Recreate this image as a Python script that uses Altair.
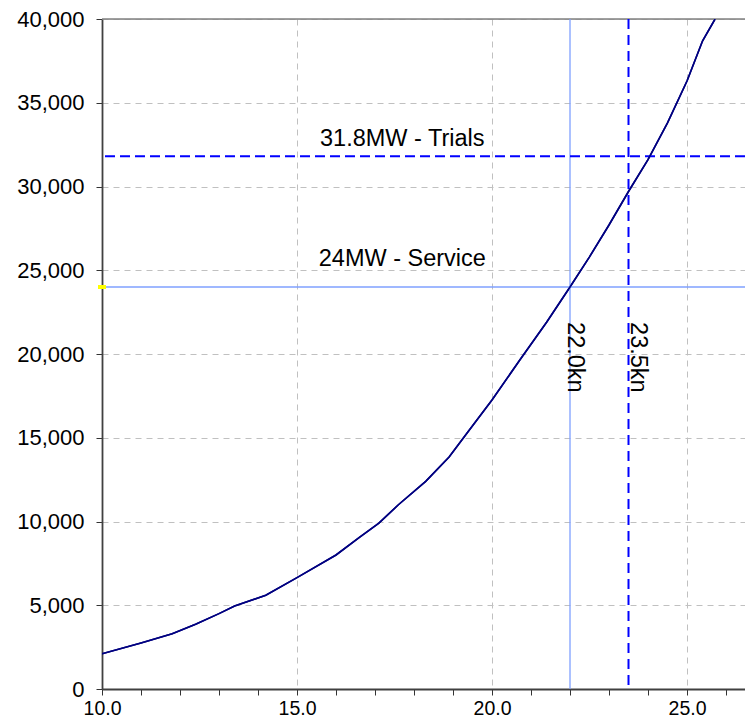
import altair as alt
import pandas as pd

# ---- data ----
speed_kn = [10.0, 11.0, 11.8, 12.4, 13.0, 13.4, 14.2, 15.0, 16.0, 16.6, 17.1, 17.6,
            18.3, 18.9, 19.4, 20.0, 20.7, 21.4, 22.0, 22.5, 23.0, 23.5, 24.0, 24.5,
            25.0, 25.4, 25.72]
power_kw = [2100, 2750, 3300, 3870, 4500, 4950, 5600, 6650, 8000, 9050, 9900, 11000,
            12400, 13850, 15400, 17250, 19600, 21900, 24000, 25800, 27700, 29700, 31600, 33800,
            36300, 38700, 40000]

x_ticks = [10 + 0.5 * i for i in range(33)]
y_ticks = [0, 5000, 10000, 15000, 20000, 25000, 30000, 35000, 40000]

trials_power = [31800]
service_power = [24000]
service_speed = [22.0]
trials_speed = [23.5]

h_labels = ["31.8MW - Trials", "24MW - Service"]
h_label_x = [17.7, 17.7]
h_label_y = [32430, 25280]

v_labels = ["22.0kn", "23.5kn"]
v_label_x = [22.14, 23.75]
v_label_y = [19800, 19800]

FONT = "Liberation Sans"

curve = pd.DataFrame({"speed": speed_kn, "power": power_kw})

xscale = alt.Scale(domain=[10, 26.487], nice=False, zero=False)
yscale = alt.Scale(domain=[0, 40000], nice=False, zero=True)

base = alt.Chart(curve).mark_line(color="#000080", strokeWidth=1.6, clip=True).encode(
    x=alt.X("speed:Q", scale=xscale, title=None,
            axis=alt.Axis(values=x_ticks,
                          labelExpr="datum.value % 5 == 0 ? format(datum.value, '.1f') : ''",
                          grid=True, gridDash=[6, 5], gridColor="#c0c0c0",
                          gridOpacity={"condition": {"test": "datum.value % 5 == 0", "value": 1}, "value": 0},
                          tickSize=6, tickColor="#333333", labelFontSize=19.5, labelPadding=19,
                          labelBaseline="alphabetic",
                          labelFont=FONT, labelColor="black",
                          domainColor="#404040", domainWidth=1.8, labelFlush=False)),
    y=alt.Y("power:Q", scale=yscale, title=None,
            axis=alt.Axis(values=y_ticks, format=",.0f", grid=True, gridDash=[6, 5],
                          gridColor="#c0c0c0", tickSize=6, tickColor="#333333",
                          labelFontSize=22, labelPadding=12, labelFont=FONT, labelColor="black",
                          domainColor="#404040", domainWidth=1.8)),
)

top_border = alt.Chart(pd.DataFrame({"y": [y_ticks[-1]]})).mark_rule(
    color="#808080", strokeWidth=1.6).encode(y=alt.Y("y:Q", scale=yscale))

trials_h = alt.Chart(pd.DataFrame({"y": trials_power})).mark_rule(
    color="#0000FF", strokeWidth=2, strokeDash=[10, 5]).encode(y=alt.Y("y:Q", scale=yscale))
service_h = alt.Chart(pd.DataFrame({"y": service_power})).mark_rule(
    color="#7FA0FF", strokeWidth=1.3).encode(y=alt.Y("y:Q", scale=yscale))
service_v = alt.Chart(pd.DataFrame({"x": service_speed})).mark_rule(
    color="#7FA0FF", strokeWidth=1.3).encode(x=alt.X("x:Q", scale=xscale))
trials_v = alt.Chart(pd.DataFrame({"x": trials_speed})).mark_rule(
    color="#0000FF", strokeWidth=2, strokeDash=[10, 6]).encode(x=alt.X("x:Q", scale=xscale))

h_text = alt.Chart(pd.DataFrame({"x": h_label_x, "y": h_label_y, "t": h_labels})).mark_text(
    font=FONT, fontSize=23.5, color="black", align="center", baseline="alphabetic").encode(
    x=alt.X("x:Q", scale=xscale), y=alt.Y("y:Q", scale=yscale), text="t:N")

v_text = alt.Chart(pd.DataFrame({"x": v_label_x, "y": v_label_y, "t": v_labels})).mark_text(
    font=FONT, fontSize=23.5, color="black", align="center", baseline="middle", angle=90).encode(
    x=alt.X("x:Q", scale=xscale), y=alt.Y("y:Q", scale=yscale), text="t:N")

marker = alt.Chart(pd.DataFrame({"x": [speed_kn[0]], "y": service_power})).mark_point(
    shape="M-1,-0.5L1,-0.5L1,0.5L-1,0.5Z", size=64, filled=True, color="#FFFF00", opacity=1).encode(
    x=alt.X("x:Q", scale=xscale), y=alt.Y("y:Q", scale=yscale))

chart = alt.layer(
    base, top_border, service_h, service_v, trials_h, trials_v, base, h_text, v_text, marker
).properties(
    width=643, height=670,
    autosize=alt.AutoSizeParams(type="none"),
    padding={"left": 94, "top": 11, "right": 0, "bottom": 29},
).configure_view(stroke=None).configure(background="white")

chart.save("out.html", embed_options={"renderer": "svg", "actions": False})
